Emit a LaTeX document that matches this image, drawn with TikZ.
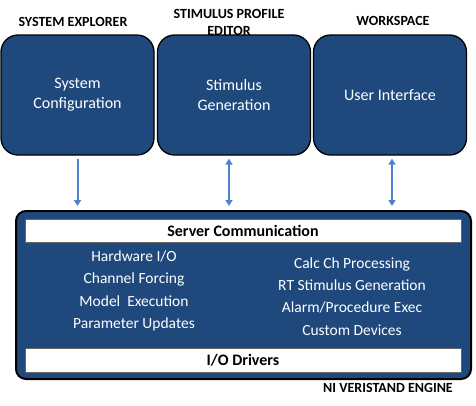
\documentclass[tikz,border=0pt]{standalone}
\usepackage{fontspec}
\setmainfont{Carlito}
\usetikzlibrary{arrows.meta}
\definecolor{boxblue}{RGB}{31,73,125}
\definecolor{arrblue}{RGB}{79,131,210}
\begin{document}
\begin{tikzpicture}[x=1pt,y=-1pt,
  topbox/.style={draw=black, line width=1.3pt, fill=boxblue, rounded corners=17pt,
    minimum width=153pt, minimum height=120pt, text=white, align=center, inner sep=0pt,
    font=\fontsize{16}{20}\selectfont},
  bigbox/.style={draw=black, line width=2pt, fill=boxblue, rounded corners=10pt,
    minimum width=455pt, minimum height=168pt, inner sep=0pt},
  bar/.style={draw=black!60, line width=0.6pt, fill=white, minimum width=436pt,
    minimum height=23pt, inner sep=0pt, font=\fontsize{16}{18}\selectfont\bfseries},
  col/.style={text=white, align=center, inner sep=0pt, font=\fontsize{15.5}{22.3}\selectfont},
  lbl/.style={font=\fontsize{14}{17}\selectfont\bfseries, align=center, inner sep=0pt},
  conn/.style={draw=arrblue, line width=2pt, shorten <=3pt, shorten >=4pt},
  tip/.style={-{Triangle[width=7pt,length=6pt]}},
  tips/.style={{Triangle[width=7pt,length=6pt]}-{Triangle[width=7pt,length=6pt]}}
]
\useasboundingbox (0,0) rectangle (476,405);
% top boxes
\node[topbox] (b1) at (77.5,95) {System\\Configuration};
\node[topbox] (b2) at (234,95) {Stimulus\\Generation};
\node[topbox] (b3) at (390,95) {User Interface};
% labels
\node[lbl] (l1) at (73,22) {SYSTEM EXPLORER};
\node[lbl] (l2) at (229,22) {STIMULUS PROFILE\\EDITOR};
\node[lbl] (l3) at (393,21) {WORKSPACE};
% engine
\node[bigbox] (eng) at (243.5,295) {};
\node[bar] (srv) at (243,230.5) {Server Communication};
\node[bar, minimum height=24pt] (io) at (243,360) {I/O Drivers};
\node[col] (c1) at (134,291) {Hardware I/O\\Channel Forcing\\Model~ Execution\\Parameter Updates};
\node[col] (c2) at (352,296.5) {Calc Ch Processing\\RT Stimulus Generation\\Alarm/Procedure Exec\\Custom Devices};
\node[lbl] (l4) at (388,388) {NI VERISTAND ENGINE};
% connectors
\draw[conn, tip] (b1.south) -- (b1.south |- eng.north);
\draw[conn, tips] ([xshift=-5pt]b2.south) -- ([xshift=-5pt]b2.south |- eng.north);
\draw[conn, tips] ([xshift=2pt]b3.south) -- ([xshift=2pt]b3.south |- eng.north);
\end{tikzpicture}
\end{document}
